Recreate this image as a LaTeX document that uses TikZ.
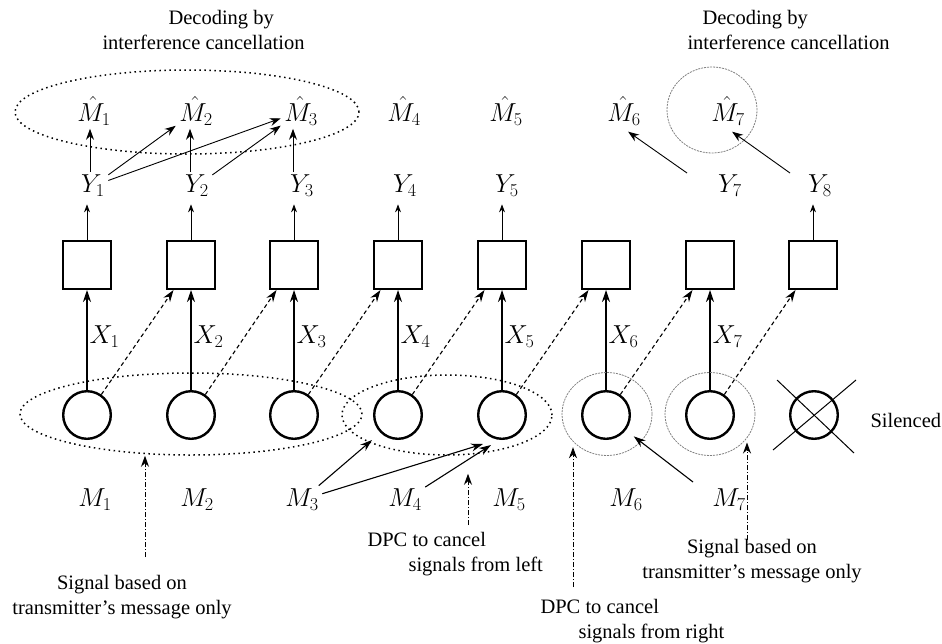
\RequirePackage{fix-cm}
\documentclass[tikz,border=0pt]{standalone}
\usepackage{fontspec}
\setmainfont{Liberation Serif}[Ligatures=TeX]
\usetikzlibrary{arrows.meta,shapes.geometric,calc}

\begin{document}
\begin{tikzpicture}[x=1pt,y=-1pt,
  font=\rmfamily\fontsize{20.5}{25}\selectfont,
  lbl/.style={font=\fontsize{26}{30}\selectfont},
  chan/.style={draw,rectangle,line width=2.4pt,minimum size=47.6pt,inner sep=0pt},
  tx/.style={draw,circle,line width=2.4pt,minimum size=47.6pt,inner sep=0pt},
  dotell/.style={draw,ellipse,line width=1.5pt,dash pattern=on 1.5pt off 3.5pt,inner sep=0pt},
  grayring/.style={draw=black!50,ellipse,line width=0.8pt,dash pattern=on 2pt off 1pt,inner sep=0pt},
  xarr/.style={line width=1.1pt,-{Stealth[length=12pt,width=8pt]}},
  dsh/.style={line width=1.1pt,dash pattern=on 4pt off 3pt,-{Stealth[length=12pt,width=8pt]}},
  uparr/.style={line width=0.8pt,-{Stealth[length=8pt,width=6pt]}},
  tarr/.style={line width=0.9pt,-{Stealth[length=11pt,width=8pt]}},
  marr/.style={line width=1.1pt,-{Stealth[length=12pt,width=8pt]}},
  dda/.style={line width=0.9pt,dash pattern=on 5pt off 2pt on 1pt off 2pt,-{Stealth[length=11pt,width=8pt]}},
  xline/.style={line width=1pt}]

\useasboundingbox (0,0) rectangle (942,643);

% channel boxes and transmitters
\foreach \i/\x in {1/87,2/191,3/294,4/398,5/502,6/606,7/710,8/813}
  \node[chan] (b\i) at (\x,265) {};
\foreach \i/\x in {1/87,2/191,3/294,4/398,5/502,6/606,7/710}
  \node[tx] (c\i) at (\x,415) {};

% silenced transmitter
\node[tx] (sil) at (814,415) {};
\draw[xline] ($(sil)+(-37,-35)$) -- ($(sil)+(40,38)$);
\draw[xline] ($(sil)+(42,-35)$) -- ($(sil)+(-41,35)$);
\node[anchor=west] (silt) at (867,420) {Silenced};

% direct links with input labels
\foreach \i in {1,...,7}
  \draw[xarr] (c\i) -- node[lbl,right,inner sep=2pt,yshift=3pt] {$X_{\i}$} (b\i);
% cross links to the next receiver
\foreach \i/\j in {1/2,2/3,3/4,4/5,5/6,6/7,7/8}
  \draw[dsh] (c\i.55) -- (b\j.-125);

% groupings at the transmitters
\node[dotell,minimum width=342pt,minimum height=82pt] (e1) at (191,414) {};
\node[dotell,minimum width=210pt,minimum height=80pt] (e2) at (447,415) {};
\node[grayring,minimum width=90pt,minimum height=83pt] (r6) at (607,414) {};
\node[grayring,minimum width=90pt,minimum height=83pt] (r7) at (710,414) {};

% receiver outputs
\node[lbl] (y1) at (93,186) {$Y_1$};
\node[lbl] (y2) at (197,186) {$Y_2$};
\node[lbl] (y3) at (302,186) {$Y_3$};
\node[lbl] (y4) at (405,186) {$Y_4$};
\node[lbl] (y5) at (507,186) {$Y_5$};
\node[lbl] (y7) at (730,186) {$Y_7$};
\node[lbl] (y8) at (820,186) {$Y_8$};
\foreach \i in {1,2,3,4,5,8}
  \draw[uparr,shorten >=4pt] (b\i.north) -- (b\i.north |- y\i.south);

% decoded messages
\node[lbl] (mh1) at (94,111) {$\hat{M}_1$};
\node[lbl] (mh2) at (196,111) {$\hat{M}_2$};
\node[lbl] (mh3) at (301,111) {$\hat{M}_3$};
\node[lbl] (mh4) at (404,111) {$\hat{M}_4$};
\node[lbl] (mh5) at (506,111) {$\hat{M}_5$};
\node[lbl] (mh6) at (624,111) {$\hat{M}_6$};
\node[lbl] (mh7) at (728,111) {$\hat{M}_7$};

\node[dotell,minimum width=344pt,minimum height=84pt] (e0) at (187,112) {};
\node[grayring,minimum width=90pt,minimum height=86pt] (g7) at (712,110) {};

\foreach \i/\x in {1/90,2/190,3/293}
  \draw[tarr] (y\i.north -| \x,0) -- (mh\i.south -| \x,0);
\draw[tarr] (y1) -- (mh2);
\draw[tarr] (y1) -- (mh3);
\draw[tarr] (y2) -- (mh3);
\coordinate (s7) at (687,173);
\coordinate (s8) at (790,173);
\draw[tarr,shorten >=5pt] (s7) -- (mh6.south);
\draw[tarr,shorten >=5pt] (s8) -- (mh7.south);

% messages
\node[lbl] (m1) at (95,500) {$M_1$};
\node[lbl] (m2) at (197,500) {$M_2$};
\node[lbl] (m3) at (302,500) {$M_3$};
\node[lbl] (m4) at (405,500) {$M_4$};
\node[lbl] (m5) at (509,500) {$M_5$};
\node[lbl] (m6) at (626,500) {$M_6$};
\node[lbl] (m7) at (729,500) {$M_7$};

\coordinate (p4) at (372,440);
\coordinate (p5a) at (483,444);
\coordinate (p5b) at (491,445);
\coordinate (q6) at (693,482);
\draw[marr] (m3) -- (p4);
\draw[marr] (m3) -- (p5a);
\draw[marr] (m4) -- (p5b);
\draw[marr,shorten >=10pt] (q6) -- (c6);

% annotations
\node[anchor=west,align=left] (dec1) at (99,30) {\hspace*{66pt}Decoding by\\interference cancellation};
\node[anchor=west,align=left] (dec2) at (684,30) {\hspace*{15pt}Decoding by\\interference cancellation};
\node[align=center] (sig1) at (122,597) {Signal based on\\transmitter's message only};
\node[align=center] (sig2) at (752,561) {Signal based on\\transmitter's message only};
\node[anchor=west,align=left] (dpc1) at (364,554) {DPC to cancel\\\hspace*{41pt}signals from left};
\node[anchor=west,align=left] (dpc2) at (537,621) {DPC to cancel\\\hspace*{38pt}signals from right};

\coordinate (s1) at (145,557);
\coordinate (s2) at (468,525);
\coordinate (s3) at (573,587);
\coordinate (s4) at (747,540);
\draw[dda] (s1) -- (s1 |- e1.south);
\draw[dda,shorten >=18pt] (s2) -- (s2 |- e2.south);
\draw[dda,shorten >=5pt] (s3) -- (s3 |- r6.-140);
\draw[dda,shorten >=5pt] (s4) -- (s4 |- r7.-32);

\end{tikzpicture}
\end{document}
